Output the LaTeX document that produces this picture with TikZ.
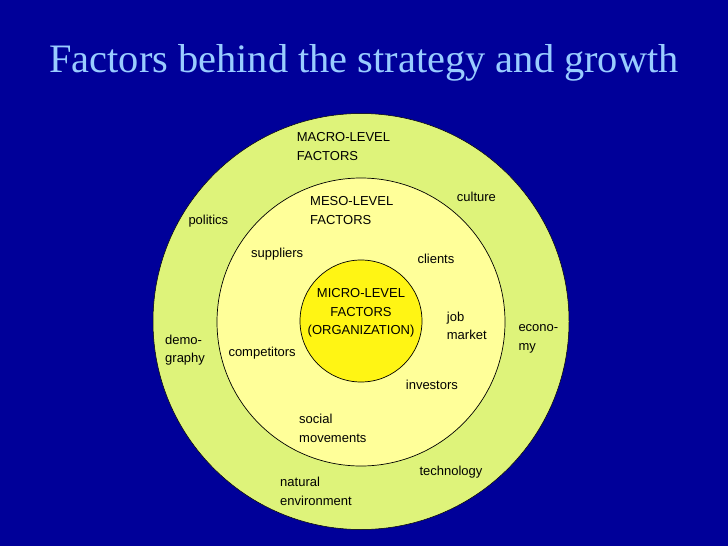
\documentclass[tikz,border=0pt]{standalone}
\usepackage{fontspec}
\setmainfont{Liberation Serif}
\newfontfamily\lblfont{Liberation Sans}
\definecolor{bgblue}{RGB}{0,0,153}
\definecolor{titleblue}{RGB}{153,204,255}
\definecolor{macrofill}{RGB}{222,243,122}
\definecolor{mesofill}{RGB}{255,255,153}
\definecolor{microfill}{RGB}{255,245,20}
\tikzset{
  ring/.style={circle, draw=black, line width=0.7pt, inner sep=0pt},
  lbl/.style={anchor=north west, inner sep=0pt, align=left, text=black,
    font=\lblfont\fontsize{13}{18.8}\selectfont},
}
\begin{document}
\begin{tikzpicture}[x=1pt,y=-1pt]
\fill[bgblue] (0,0) rectangle (728,546);
\useasboundingbox (0,0) rectangle (728,546);
\node[anchor=base, inner sep=0pt, text=titleblue, font=\fontsize{40.4}{44}\selectfont] (title) at (364,72) {Factors behind the strategy and growth};
\node[ring, line width=0.5pt, fill=macrofill, minimum size=416pt] (macro) at (361,321.5) {};
\node[ring, fill=mesofill, minimum size=288pt] (meso) at (361,322) {};
\node[ring, fill=microfill, minimum size=122pt] (micro) at (361,321) {};
\node[lbl] (macrolbl) at (296.7,132.7) {\vphantom{A}MACRO-LEVEL\\FACTORS};
\node[lbl] (mesolbl) at (310,196.1) {\vphantom{A}MESO-LEVEL\\FACTORS};
\node[lbl] (culture) at (456.7,191.4) {\vphantom{A}culture};
\node[lbl] (politics) at (188.3,214.7) {\vphantom{A}politics};
\node[lbl] (suppliers) at (251,248.1) {\vphantom{A}suppliers};
\node[lbl] (clients) at (417.3,253.7) {\vphantom{A}clients};
\node[lbl, anchor=north, align=center] (microlbl) at (361,288.1) {\vphantom{A}MICRO-LEVEL\\FACTORS\\(ORGANIZATION)};
\node[lbl] (job) at (446.7,311.4) {\vphantom{A}job\\market};
\node[lbl] (econo) at (518.3,322.7) {\vphantom{A}econo-\\my};
\node[lbl] (demo) at (165,334.4) {\vphantom{A}demo-\\graphy};
\node[lbl] (competitors) at (228.3,347.1) {\vphantom{A}competitors};
\node[lbl] (investors) at (405.7,379.7) {\vphantom{A}investors};
\node[lbl] (social) at (299,413.7) {\vphantom{A}social\\movements};
\node[lbl] (technology) at (419.3,465.4) {\vphantom{A}technology};
\node[lbl] (natural) at (280,477.1) {\vphantom{A}natural\\environment};
\end{tikzpicture}
\end{document}
